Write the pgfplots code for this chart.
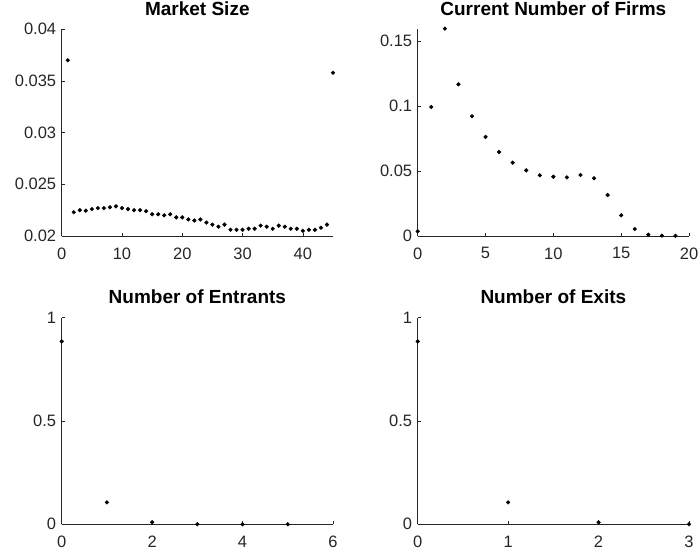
\documentclass[border=0pt]{standalone}
\usepackage{pgfplots}
\pgfplotsset{compat=1.18}
\usepackage{fontspec}
\setmainfont{Liberation Sans}
\definecolor{ax}{rgb}{0.15,0.15,0.15}
\pgfplotsset{mstyle/.style={
  scale only axis, width=271.3pt, height=206.7pt, anchor=south west,
  axis lines=left, axis line style={-, ax, line width=0.6pt},
  tick align=inside, major tick length=3pt, tick style={ax, line width=0.6pt},
  ticklabel style={font=\fontsize{16.5}{19}\selectfont, text=ax},
  /pgf/number format/assume math mode=true,
  scaled ticks=false,
  clip=false,
  xticklabel style={yshift=-8pt},
  yticklabel style={xshift=-2pt},
  title style={font=\bfseries\fontsize{19}{21}\selectfont, at={(0.5,1)}, anchor=base, yshift=7.6pt},
}}
\begin{document}
\begin{tikzpicture}[x=1pt,y=1pt]
\useasboundingbox (0,0) rectangle (700,553);
% Panel 1
\begin{axis}[mstyle, at={(61.7pt,317pt)}, title={Market Size},
  xmin=0, xmax=45, ymin=0.02, ymax=0.04,
  xtick={0,10,20,30,40}, ytick={0.02,0.025,0.03,0.035,0.04},
  yticklabels={0.02,0.025,0.03,0.035,0.04}]
\addplot[only marks, mark=*, mark size=1.9pt, black] coordinates {
(1,0.0370) (2,0.0223) (3,0.0225) (4,0.02245) (5,0.0226) (6,0.0227) (7,0.0227)
(8,0.02278) (9,0.02287) (10,0.0227) (11,0.0226) (12,0.0225) (13,0.0225) (14,0.0224)
(15,0.0221) (16,0.0221) (17,0.0220) (18,0.0221) (19,0.0218) (20,0.0218) (21,0.0216)
(22,0.0215) (23,0.0216) (24,0.0213) (25,0.0211) (26,0.0209) (27,0.0211) (28,0.0206)
(29,0.0206) (30,0.0206) (31,0.0207) (32,0.0207) (33,0.0210) (34,0.0209) (35,0.0207)
(36,0.0210) (37,0.0209) (38,0.0207) (39,0.0207) (40,0.0205) (41,0.0206) (42,0.0206)
(43,0.0208) (44,0.0211) (45,0.0358)};
\end{axis}
% Panel 2
\begin{axis}[mstyle, at={(417.7pt,317pt)}, title={Current Number of Firms},
  xmin=0, xmax=20, ymin=0, ymax=0.159,
  xtick={0,5,10,15,20}, ytick={0,0.05,0.1,0.15},
  yticklabels={0,0.05,0.1,0.15}]
\addplot[only marks, mark=*, mark size=1.9pt, black] coordinates {
(0,0.0036) (1,0.0992) (2,0.1595) (3,0.1167) (4,0.0921) (5,0.0762) (6,0.0646)
(7,0.0564) (8,0.0505) (9,0.0467) (10,0.0456) (11,0.0451) (12,0.0469) (13,0.0444)
(14,0.0315) (15,0.0159) (16,0.0054) (17,0.0010) (18,0.0003) (19,0.0001)};
\end{axis}
% Panel 3
\begin{axis}[mstyle, at={(61.7pt,28.7pt)}, title={Number of Entrants},
  xmin=0, xmax=6, ymin=0, ymax=1,
  xtick={0,2,4,6}, ytick={0,0.5,1}, yticklabels={0,0.5,1}]
\addplot[only marks, mark=*, mark size=1.9pt, black] coordinates {
(0,0.885) (1,0.106) (2,0.0097) (3,0.0005) (4,0.0001) (5,0.0)};
\end{axis}
% Panel 4
\begin{axis}[mstyle, at={(417.7pt,28.7pt)}, title={Number of Exits},
  xmin=0, xmax=3, ymin=0, ymax=1,
  xtick={0,1,2,3}, ytick={0,0.5,1}, yticklabels={0,0.5,1}]
\addplot[only marks, mark=*, mark size=1.9pt, black] coordinates {
(0,0.885) (1,0.106) (2,0.0097) (3,0.0005)};
\end{axis}
\end{tikzpicture}
\end{document}
